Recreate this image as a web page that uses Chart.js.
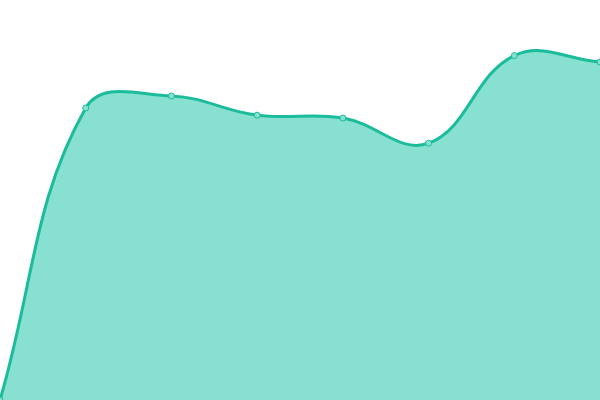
<!DOCTYPE html>
<html>
<head>
<meta charset="utf-8">
<script src="https://cdn.jsdelivr.net/npm/chart.js@4/dist/chart.umd.min.js"></script>
<style>
  html, body { margin: 0; padding: 0; background: #fff; }
  #wrap { width: 600px; height: 400px; }
</style>
</head>
<body>
<div id="wrap"><canvas id="chart"></canvas></div>
<script>
const LINE_COLOR = '#1ABC9C';
const FILL_COLOR = '#88E0D0';

const labels = ['1', '2', '3', '4', '5', '6', '7', '8'];
const values = [0, 73, 76, 71.2, 70.5, 64.2, 86.1, 84.5];

const ctx = document.getElementById('chart').getContext('2d');
new Chart(ctx, {
    type: 'line',
    data: {
        labels: labels,
        datasets: [{
            data: values,
            borderColor: LINE_COLOR,
            backgroundColor: FILL_COLOR,
            fill: true,
            tension: 0.4,
            borderWidth: 3,
            pointRadius: 3,
            pointBorderWidth: 1,
            pointBackgroundColor: FILL_COLOR,
            pointBorderColor: LINE_COLOR,
            clip: false,
        }],
    },
    options: {
        responsive: true,
        maintainAspectRatio: false,
        animation: false,
        // plot runs edge to edge, no inset for the end points
        layout: { autoPadding: false, padding: 0 },
        plugins: {
            legend: { display: false },
            tooltip: { enabled: false },
        },
        scales: {
            x: { display: false, offset: false },
            y: { display: false, min: 0, max: 100 },
        },
    },
});
</script>
</body>
</html>
